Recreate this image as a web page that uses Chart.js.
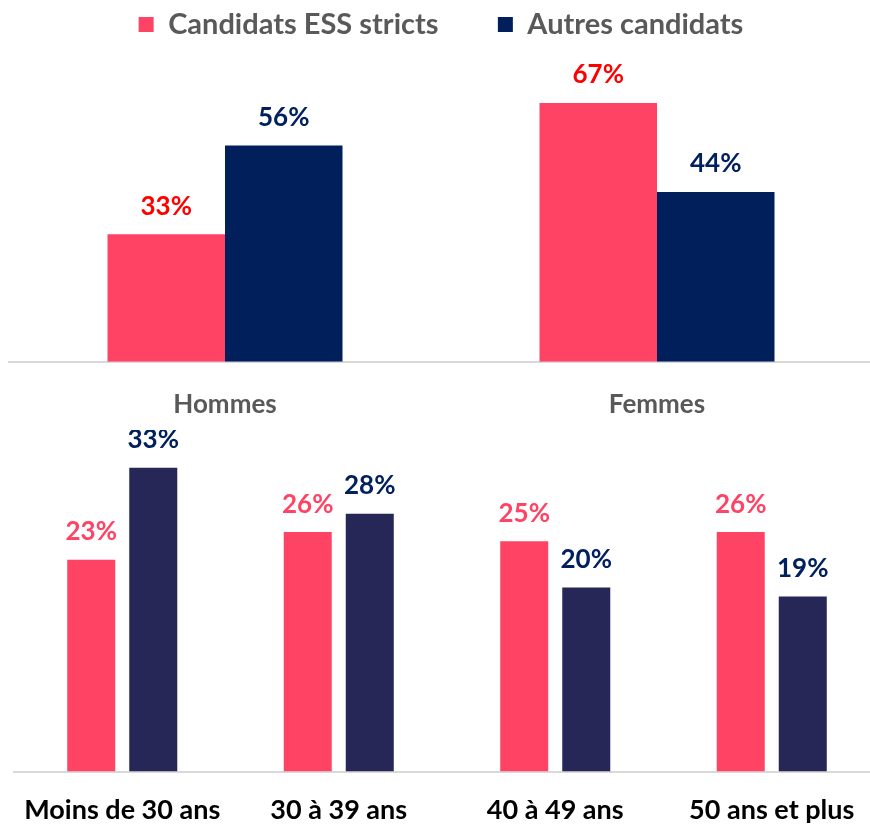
<!DOCTYPE html>
<html lang="fr">
<head>
  <meta charset="UTF-8">
  <title>Candidats ESS stricts vs autres candidats</title>
  <script src="https://cdn.jsdelivr.net/npm/chart.js"></script>
  <style>
    html, body { margin: 0; padding: 0; background: #fff; overflow: hidden; }
    #wrap { position: relative; width: 870px; height: 824px; overflow: hidden; }
    #boxTop { position: absolute; left: 0; top: 0; width: 880px; height: 440px; }
    #boxAge { position: absolute; left: 0; top: 430px; width: 880px; height: 410px; }
  </style>
</head>
<body>
  <div id="wrap">
    <div id="boxTop"><canvas id="chartGenre"></canvas></div>
    <div id="boxAge"><canvas id="chartAge"></canvas></div>
  </div>

  <script>
    // ---- data ----
    const seriesNames = ["Candidats ESS stricts", "Autres candidats"];
    const genres = ["Hommes", "Femmes"];
    const essGenre = [33, 67];
    const autresGenre = [56, 44];
    const ages = ["Moins de 30 ans", "30 à 39 ans", "40 à 49 ans", "50 ans et plus"];
    const essAge = [23, 26, 25, 26];
    const autresAge = [33, 28, 20, 19];

    const pink = "#FF4365";
    const navy = "#001F5B";
    const navyAge = "#262657";
    const grey = "#595959";
    const font = "Lato, 'Open Sans', sans-serif";

    // value labels above each bar
    const valueLabels = {
      id: "valueLabels",
      afterDatasetsDraw(chart, args, opts) {
        const ctx = chart.ctx;
        ctx.save();
        ctx.font = "bold " + opts.size + "px " + font;
        ctx.textAlign = "center";
        ctx.textBaseline = "middle";
        chart.data.datasets.forEach((ds, i) => {
          chart.getDatasetMeta(i).data.forEach((bar, j) => {
            ctx.fillStyle = opts.colors[i];
            ctx.fillText(ds.data[j] + "%", bar.x, bar.y - opts.offset);
          });
        });
        ctx.restore();
      }
    };

    // wider gap between the two legend entries
    const legendLabels = (chart) => {
      const items = Chart.defaults.plugins.legend.labels.generateLabels(chart);
      items[0].text += "       ";
      return items;
    };

    // 1 · Hommes / Femmes
    new Chart("chartGenre", {
      type: "bar",
      data: {
        labels: genres,
        datasets: [
          { label: seriesNames[0], data: essGenre, backgroundColor: pink },
          { label: seriesNames[1], data: autresGenre, backgroundColor: navy }
        ]
      },
      options: {
        responsive: true,
        maintainAspectRatio: false,
        animation: false,
        layout: { padding: { left: 9, right: 7, top: 0, bottom: 1 } },
        datasets: { bar: { categoryPercentage: 0.544, barPercentage: 1 } },
        plugins: {
          legend: {
            position: "top",
            labels: {
              boxWidth: 15, boxHeight: 15, padding: 10,
              color: grey,
              font: { family: font, size: 29, weight: "bold" },
              generateLabels: legendLabels
            }
          },
          tooltip: { enabled: false },
          valueLabels: { size: 26, offset: 28, colors: ["#FF0000", "#002060"] }
        },
        scales: {
          x: {
            grid: { display: false },
            border: { display: true, color: "#D9D9D9", width: 2 },
            ticks: { color: grey, padding: 19, font: { family: font, size: 26, weight: "bold" } }
          },
          y: { display: false, min: 0, max: 81 }
        }
      },
      plugins: [valueLabels]
    });

    // 2 · Tranches d'âge
    new Chart("chartAge", {
      type: "bar",
      data: {
        labels: ages,
        datasets: [
          { label: seriesNames[0], data: essAge, backgroundColor: pink },
          { label: seriesNames[1], data: autresAge, backgroundColor: navyAge }
        ]
      },
      options: {
        responsive: true,
        maintainAspectRatio: false,
        animation: false,
        layout: { padding: { left: 14, right: 0, top: 10, bottom: 0 } },
        datasets: { bar: { categoryPercentage: 0.573, barPercentage: 0.774 } },
        plugins: {
          legend: { display: false },
          tooltip: { enabled: false },
          valueLabels: { size: 26, offset: 28, colors: [pink, "#002060"] }
        },
        scales: {
          x: {
            grid: { display: false },
            border: { display: true, color: "#D9D9D9", width: 2 },
            ticks: { color: "#000", padding: 14, font: { family: font, size: 27, weight: "bold" } }
          },
          y: { display: false, min: 0, max: 36 }
        }
      },
      plugins: [valueLabels]
    });
  </script>
</body>
</html>
